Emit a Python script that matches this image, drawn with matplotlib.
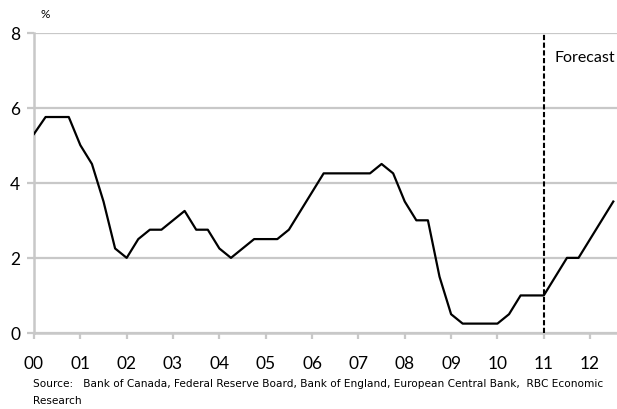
import numpy as np
import matplotlib.pyplot as plt

# quarterly policy rate, 2000Q1 - 2012Q3 (forecast from 2011Q1)
rate = [5.3, 5.75, 5.75, 5.75,
        5.0, 4.5, 3.5, 2.25,
        2.0, 2.5, 2.75, 2.75,
        3.0, 3.25, 2.75, 2.75,
        2.25, 2.0, 2.25, 2.5,
        2.5, 2.5, 2.75, 3.25,
        3.75, 4.25, 4.25, 4.25,
        4.25, 4.25, 4.5, 4.25,
        3.5, 3.0, 3.0, 1.5,
        0.5, 0.25, 0.25, 0.25,
        0.25, 0.5, 1.0, 1.0,
        1.0, 1.5, 2.0, 2.0,
        2.5, 3.0, 3.5]
year_labels = ['00', '01', '02', '03', '04', '05', '06',
               '07', '08', '09', '10', '11', '12']
forecast_start = 11
source = ("Source:   Bank of Canada, Federal Reserve Board, Bank of England, "
          "European Central Bank,  RBC Economic\nResearch")

quarters = np.arange(len(rate)) / 4.0
grey = '#c8c8c8'

plt.rcParams['font.family'] = ['Lato', 'DejaVu Sans']
fig = plt.figure(figsize=(6.17, 4.10), dpi=100)
ax = fig.add_axes([34 / 617, 76 / 410, 583 / 617, 300.5 / 410])

ax.plot(quarters, rate, color='black', lw=1.6, zorder=3)
ax.axvline(forecast_start, color='black', lw=1.5, ls=(0, (2.5, 1.2)), zorder=4)
ax.text(forecast_start + 0.24, 7.35, 'Forecast', fontsize=11.5, va='center')

ax.set_xlim(0, quarters[-1] + 0.08)
ax.set_ylim(0, 8)
ax.set_yticks([0, 2, 4, 6, 8])
ax.set_xticks(np.arange(len(year_labels)))
ax.set_xticklabels(year_labels)
ax.yaxis.grid(True, color=grey, lw=1.6)
ax.set_axisbelow(True)

for side in ['top', 'right']:
    ax.spines[side].set_visible(False)
for side in ['left', 'bottom']:
    ax.spines[side].set_color(grey)
    ax.spines[side].set_linewidth(1.8)
ax.tick_params(axis='y', length=5, width=1.6, color=grey, pad=5, labelsize=12.5)
ax.tick_params(axis='x', length=4.5, width=1.6, color=grey, pad=11, labelsize=12.5)

fig.text(45 / 617, 1 - 15 / 410, '%', fontsize=8.5, ha='center', va='center')
fig.text(33 / 617, 1 - 379 / 410, source, fontsize=7.6, va='top',
         family='DejaVu Sans', linespacing=1.85)

fig.savefig('out.png', dpi=100)
